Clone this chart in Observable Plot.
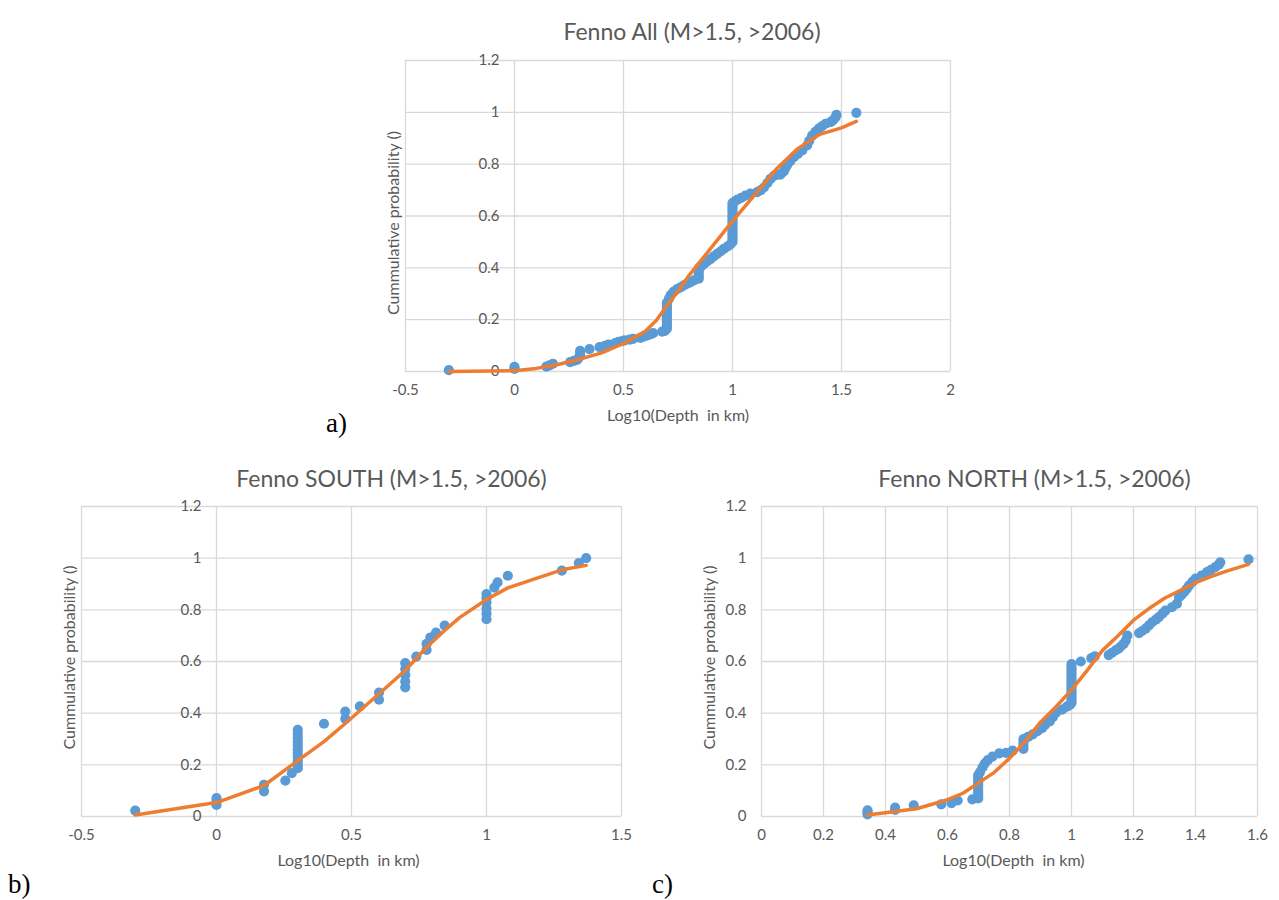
<!DOCTYPE html>
<html><head><meta charset="utf-8">
<script src="https://cdn.jsdelivr.net/npm/d3@7"></script>
<script src="https://cdn.jsdelivr.net/npm/@observablehq/plot@0.6"></script>
<style>
body{margin:0;background:#fff;}
#root{position:relative;width:1279px;height:900px;overflow:hidden;background:#fff;}
.panel{position:absolute;}
.tag{position:absolute;font-family:"Liberation Serif","Times New Roman",serif;font-size:27px;color:#000;line-height:27px;}
</style></head><body><div id="root"></div>
<script>
// ---------- shared ----------
const yTicks = [0, 0.2, 0.4, 0.6, 0.8, 1, 1.2];
const xTicksA = [-0.5, 0, 0.5, 1, 1.5, 2];
const xTicksB = [-0.5, 0, 0.5, 1, 1.5];
const xTicksC = [0, 0.2, 0.4, 0.6, 0.8, 1, 1.2, 1.4, 1.6];
const xTitle = "Log10(Depth\u00a0 in km)";
const yTitle = "Cummulative probability ()";
const titleA = "Fenno All (M>1.5, >2006)";
const titleB = "Fenno SOUTH (M>1.5, >2006)";
const titleC = "Fenno NORTH (M>1.5, >2006)";

// ---------- a) Fenno All : observed points ----------
const allX = [-0.301, 0, 0, 0.146, 0.161, 0.176, 0.255, 0.272, 0.287, 0.294, 0.301, 0.301, 0.301,
  0.344, 0.39, 0.415, 0.431, 0.462, 0.477, 0.494, 0.505, 0.529, 0.544, 0.578, 0.595, 0.609, 0.623, 0.636,
  0.677, 0.69, 0.699, 0.699, 0.699, 0.699, 0.699, 0.699, 0.699, 0.699, 0.699, 0.699, 0.699,
  0.708, 0.716, 0.73, 0.746, 0.762, 0.777, 0.792, 0.808, 0.823, 0.845, 0.845, 0.845, 0.845, 0.845,
  0.857, 0.869, 0.884, 0.899, 0.914, 0.93, 0.945, 0.96, 0.978, 0.99,
  1, 1, 1, 1, 1, 1, 1, 1, 1, 1, 1, 1, 1, 1, 1, 1,
  1.01, 1.021, 1.04, 1.059, 1.082, 1.113, 1.13, 1.144, 1.16, 1.174, 1.19, 1.205, 1.22, 1.235, 1.243,
  1.251, 1.265, 1.281, 1.3, 1.32, 1.342, 1.352, 1.365, 1.38, 1.396, 1.41, 1.427, 1.45, 1.462, 1.472,
  1.477, 1.568];
const allY = [0.005, 0.01, 0.018, 0.019, 0.024, 0.03, 0.036, 0.041, 0.045, 0.052, 0.062, 0.072, 0.08,
  0.086, 0.094, 0.099, 0.104, 0.11, 0.114, 0.117, 0.12, 0.123, 0.126, 0.13, 0.135, 0.139, 0.143, 0.148,
  0.154, 0.157, 0.165, 0.175, 0.185, 0.195, 0.205, 0.215, 0.225, 0.235, 0.245, 0.255, 0.265,
  0.28, 0.295, 0.308, 0.318, 0.325, 0.332, 0.339, 0.345, 0.352, 0.358, 0.368, 0.378, 0.388, 0.398,
  0.406, 0.415, 0.425, 0.434, 0.444, 0.454, 0.463, 0.473, 0.483, 0.49,
  0.5, 0.51, 0.52, 0.53, 0.54, 0.55, 0.56, 0.57, 0.58, 0.59, 0.6, 0.61, 0.62, 0.63, 0.64, 0.65,
  0.656, 0.662, 0.67, 0.679, 0.686, 0.692, 0.7, 0.71, 0.727, 0.743, 0.755, 0.76, 0.76, 0.772, 0.785,
  0.797, 0.812, 0.827, 0.84, 0.853, 0.872, 0.89, 0.91, 0.925, 0.937, 0.946, 0.956, 0.962, 0.97, 0.98,
  0.99, 0.998];
// fitted curve
const allFitX = [-0.301, 0, 0.1, 0.2, 0.3, 0.4, 0.5, 0.6, 0.65, 0.7, 0.75, 0.8, 0.9, 1.0, 1.1, 1.2, 1.3, 1.4, 1.5, 1.568];
const allFitY = [0, 0.003, 0.012, 0.027, 0.048, 0.072, 0.108, 0.155, 0.197, 0.255, 0.31, 0.37, 0.475, 0.58, 0.68, 0.78, 0.86, 0.915, 0.94, 0.965];

// ---------- b) Fenno SOUTH ----------
const southX = [-0.301, 0, 0, 0, 0.176, 0.176, 0.255, 0.279,
  0.301, 0.301, 0.301, 0.301, 0.301, 0.301, 0.301, 0.301, 0.301, 0.301, 0.301,
  0.398, 0.477, 0.477, 0.531, 0.602, 0.602, 0.699, 0.699, 0.699, 0.699, 0.699,
  0.74, 0.778, 0.778, 0.792, 0.813, 0.845, 1, 1, 1, 1, 1, 1,
  1.029, 1.041, 1.079, 1.279, 1.342, 1.369];
const southY = [0.023, 0.045, 0.058, 0.071, 0.097, 0.123, 0.139, 0.168,
  0.187, 0.2, 0.215, 0.23, 0.245, 0.26, 0.275, 0.29, 0.305, 0.32, 0.335,
  0.359, 0.378, 0.406, 0.426, 0.452, 0.48, 0.5, 0.523, 0.548, 0.571, 0.594,
  0.619, 0.645, 0.668, 0.693, 0.712, 0.739, 0.764, 0.785, 0.806, 0.828, 0.845, 0.861,
  0.886, 0.906, 0.932, 0.952, 0.981, 1.0];
const southFitX = [-0.301, 0, 0.176, 0.301, 0.398, 0.477, 0.602, 0.699, 0.778, 0.845, 0.9, 1.0, 1.079, 1.279, 1.369];
const southFitY = [0.006, 0.054, 0.12, 0.216, 0.29, 0.36, 0.475, 0.565, 0.655, 0.72, 0.77, 0.84, 0.885, 0.955, 0.972];

// ---------- c) Fenno NORTH ----------
const northX = [0.342, 0.342, 0.342, 0.431, 0.431, 0.491, 0.58, 0.613, 0.633, 0.68,
  0.699, 0.699, 0.699, 0.699, 0.699, 0.699, 0.699, 0.699, 0.699, 0.699,
  0.705, 0.713, 0.72, 0.73, 0.745, 0.767, 0.789, 0.81, 0.845, 0.845, 0.845, 0.845,
  0.86, 0.875, 0.89, 0.905, 0.915, 0.93, 0.94, 0.95, 0.97, 0.985, 0.995,
  1, 1, 1, 1, 1, 1, 1, 1, 1, 1, 1, 1, 1, 1, 1, 1,
  1.03, 1.064, 1.075, 1.12, 1.13, 1.142, 1.152, 1.159, 1.168, 1.175, 1.18,
  1.218, 1.228, 1.239, 1.25, 1.26, 1.272, 1.282, 1.293, 1.303, 1.324, 1.34, 1.347, 1.355, 1.363, 1.371,
  1.379, 1.39, 1.4, 1.42, 1.437, 1.45, 1.464, 1.475, 1.48, 1.571];
const northY = [0.008, 0.016, 0.024, 0.026, 0.034, 0.043, 0.047, 0.052, 0.062, 0.066,
  0.07, 0.08, 0.09, 0.1, 0.11, 0.12, 0.13, 0.14, 0.15, 0.16,
  0.172, 0.19, 0.205, 0.218, 0.232, 0.244, 0.246, 0.255, 0.262, 0.275, 0.288, 0.3,
  0.308, 0.318, 0.33, 0.342, 0.355, 0.368, 0.385, 0.402, 0.414, 0.425, 0.432,
  0.44, 0.45, 0.46, 0.47, 0.48, 0.49, 0.5, 0.51, 0.52, 0.53, 0.54, 0.55, 0.56, 0.57, 0.58, 0.59,
  0.6, 0.613, 0.62, 0.625, 0.633, 0.643, 0.65, 0.658, 0.668, 0.681, 0.7,
  0.71, 0.718, 0.727, 0.74, 0.752, 0.762, 0.772, 0.785, 0.797, 0.81, 0.824, 0.849, 0.858, 0.868, 0.88,
  0.894, 0.908, 0.921, 0.933, 0.946, 0.955, 0.965, 0.975, 0.984, 0.995];
const northFitX = [0.342, 0.431, 0.5, 0.6, 0.65, 0.7, 0.75, 0.8, 0.85, 0.9, 0.95, 1.0, 1.05, 1.1, 1.15, 1.2, 1.25, 1.3, 1.35, 1.4, 1.45, 1.5, 1.571];
const northFitY = [0.006, 0.019, 0.03, 0.065, 0.09, 0.13, 0.17, 0.225, 0.29, 0.365, 0.425, 0.49, 0.565, 0.643, 0.7, 0.76, 0.805, 0.845, 0.875, 0.905, 0.929, 0.95, 0.976];

// ---------- drawing ----------
const GRAY = "#595959", GRID = "#d9d9d9", BLUE = "#5b9bd5", ORANGE = "#ed7d31";
const FONT = "Lato, 'Open Sans', sans-serif";

function chart(cfg) {
  const pts = cfg.px.map((x, i) => ({x, y: cfg.py[i]}));
  const fit = cfg.fx.map((x, i) => ({x, y: cfg.fy[i]}));
  const svg = Plot.plot({
    width: cfg.width, height: cfg.height,
    marginLeft: cfg.ml, marginRight: cfg.mr, marginTop: cfg.mt, marginBottom: cfg.mb,
    style: {fontFamily: FONT, color: GRAY, background: "transparent", overflow: "visible"},
    x: {domain: cfg.xDomain, axis: null},
    y: {domain: [0, 1.2], axis: null},
    marks: [
      Plot.gridX(cfg.xTicks, {stroke: GRID, strokeOpacity: 1, strokeWidth: 1.3}),
      Plot.gridY(yTicks, {stroke: GRID, strokeOpacity: 1, strokeWidth: 1.3}),
      Plot.axisX(cfg.xTicks, {tickSize: 0, tickPadding: 13, tickFormat: d => String(d), label: null, fontSize: 15, color: GRAY}),
      Plot.text(yTicks, {x: () => 0, y: d => d, text: d => String(d), textAnchor: "end", dx: -15, fontSize: 15, fill: GRAY}),
      Plot.dot(pts, {x: "x", y: "y", r: 5.1, fill: BLUE}),
      Plot.line(fit, {x: "x", y: "y", stroke: ORANGE, strokeWidth: 3.5}),
      Plot.text([cfg.title], {frameAnchor: "top", dy: cfg.tdy, dx: cfg.tdx, fontSize: 23, fill: GRAY}),
      Plot.text([xTitle], {frameAnchor: "bottom", dy: 49, dx: cfg.xtdx, fontSize: 16, fill: GRAY}),
      Plot.text([yTitle], {frameAnchor: "left", textAnchor: "middle", rotate: -90, dx: cfg.ytdx, dy: cfg.ytdy, fontSize: 16, fill: GRAY})
    ]
  });
  const wrap = document.createElement("div");
  wrap.className = "panel";
  wrap.style.left = cfg.left + "px";
  wrap.style.top = cfg.top + "px";
  wrap.appendChild(svg);
  document.getElementById("root").appendChild(wrap);
}

chart({left: 370, top: 0, width: 600, height: 440, ml: 35, mr: 20, mt: 60, mb: 69,
  xDomain: [-0.5, 2], xTicks: xTicksA, px: allX, py: allY, fx: allFitX, fy: allFitY,
  title: titleA, tdy: -37, tdx: 14, xtdx: 0, ytdx: -12, ytdy: 7});
chart({left: 40, top: 440, width: 600, height: 460, ml: 41, mr: 19, mt: 66, mb: 84,
  xDomain: [-0.5, 1.5], xTicks: xTicksB, px: southX, py: southY, fx: southFitX, fy: southFitY,
  title: titleB, tdy: -36, tdx: 40, xtdx: -3, ytdx: -12, ytdy: -4});
chart({left: 680, top: 440, width: 599, height: 460, ml: 81, mr: 22, mt: 66, mb: 84,
  xDomain: [0, 1.6], xTicks: xTicksC, px: northX, py: northY, fx: northFitX, fy: northFitY,
  title: titleC, tdy: -36, tdx: 25, xtdx: 4, ytdx: -52, ytdy: -4});

const tags = [["a)", 326, 410], ["b)", 8, 871], ["c)", 652, 871]];
for (const [t, l, tp] of tags) {
  const d = document.createElement("div");
  d.className = "tag"; d.textContent = t;
  d.style.left = l + "px"; d.style.top = tp + "px";
  document.getElementById("root").appendChild(d);
}
</script>
</body></html>
